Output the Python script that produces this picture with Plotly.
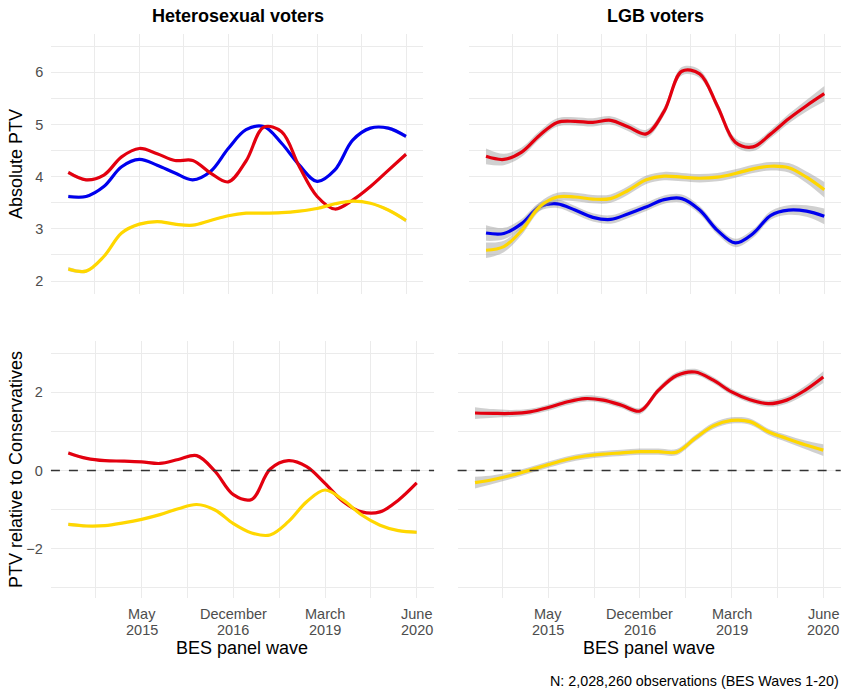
import plotly.graph_objects as go

W, H = 844, 692

waves = list(range(1, 21))
tick_waves = [5, 10, 15, 20]
tick_months = ["May", "December", "March", "June"]
tick_years = ["2015", "2016", "2019", "2020"]

# Heterosexual voters, absolute PTV
het_abs_con = [3.62, 3.62, 3.81, 4.19, 4.33, 4.22, 4.07, 3.94, 4.10, 4.54,
               4.90, 4.96, 4.64, 4.22, 3.91, 4.13, 4.70, 4.93, 4.93, 4.77]
het_abs_lab = [4.08, 3.94, 4.03, 4.38, 4.54, 4.44, 4.31, 4.31, 4.07, 3.90,
               4.30, 4.95, 4.86, 4.19, 3.62, 3.38, 3.55, 3.81, 4.12, 4.43]
het_abs_ld = [2.23, 2.19, 2.47, 2.92, 3.09, 3.14, 3.09, 3.07, 3.16, 3.25,
              3.30, 3.30, 3.31, 3.34, 3.39, 3.48, 3.53, 3.49, 3.36, 3.16]

# LGB voters, absolute PTV
lgb_abs_con = [2.92, 2.91, 3.10, 3.42, 3.48, 3.36, 3.22, 3.18, 3.29, 3.42,
               3.56, 3.58, 3.36, 2.97, 2.73, 2.91, 3.26, 3.36, 3.34, 3.24]
lgb_abs_lab = [4.39, 4.33, 4.47, 4.79, 5.04, 5.06, 5.04, 5.08, 4.95, 4.82,
               5.25, 6.02, 5.97, 5.35, 4.66, 4.57, 4.82, 5.11, 5.36, 5.59]
lgb_abs_ld = [2.59, 2.66, 2.97, 3.42, 3.61, 3.61, 3.57, 3.58, 3.74, 3.94,
              4.01, 3.99, 3.97, 3.99, 4.06, 4.15, 4.20, 4.17, 3.99, 3.75]

# Heterosexual voters, PTV relative to Conservatives
het_rel_lab = [0.45, 0.31, 0.25, 0.24, 0.22, 0.18, 0.28, 0.38, -0.02, -0.62,
               -0.74, 0.03, 0.25, 0.10, -0.33, -0.80, -1.06, -1.06, -0.76, -0.32]
het_rel_ld = [-1.38, -1.42, -1.41, -1.34, -1.25, -1.13, -0.98, -0.87, -1.01, -1.36,
              -1.60, -1.65, -1.31, -0.80, -0.50, -0.76, -1.14, -1.40, -1.54, -1.58]

# LGB voters, PTV relative to Conservatives
lgb_rel_lab = [1.47, 1.46, 1.46, 1.50, 1.61, 1.75, 1.84, 1.80, 1.67, 1.52,
               2.05, 2.43, 2.52, 2.31, 2.01, 1.81, 1.71, 1.80, 2.05, 2.39]
lgb_rel_ld = [-0.31, -0.23, -0.12, 0.01, 0.15, 0.28, 0.37, 0.42, 0.45, 0.48,
              0.48, 0.47, 0.82, 1.14, 1.28, 1.25, 0.99, 0.82, 0.66, 0.52]

# confidence band half-widths
ci_het = [0.04, 0.03, 0.02, 0.02, 0.02, 0.02, 0.02, 0.02, 0.02, 0.02,
          0.02, 0.02, 0.02, 0.02, 0.02, 0.02, 0.02, 0.02, 0.03, 0.04]
ci_lgb = [0.15, 0.11, 0.09, 0.08, 0.08, 0.08, 0.08, 0.08, 0.08, 0.08,
          0.08, 0.08, 0.08, 0.08, 0.08, 0.08, 0.08, 0.09, 0.11, 0.15]

COL = {"con": "#0000EE", "lab": "#E3000F", "ld": "#FFD700"}
RIBBON = "rgba(150,150,150,0.45)"
FONT = "Liberation Sans, Arial, sans-serif"

# panel boxes in pixels (left, right, top, bottom)
panels = {
    "x1": (51.4, 422.9, 33.7, 293.7),
    "x2": (469.1, 841.2, 33.7, 293.7),
    "x3": (50.9, 434.1, 340.7, 598.3),
    "x4": (457.6, 840.7, 340.7, 598.3),
}
YR_TOP = [1.757, 6.74]
YR_BOT = [-3.27, 3.32]
XR = [0.05, 20.95]

fig = go.Figure()

def add_series(ax, ys, color, ci):
    xref = "x" if ax == 1 else f"x{ax}"
    yref = "y" if ax == 1 else f"y{ax}"
    upper = [v + c for v, c in zip(ys, ci)]
    lower = [v - c for v, c in zip(ys, ci)]
    fig.add_trace(go.Scatter(x=waves, y=upper, mode="lines", line=dict(width=0, shape="spline", smoothing=1.0),
                             xaxis=xref, yaxis=yref, showlegend=False, hoverinfo="skip"))
    fig.add_trace(go.Scatter(x=waves, y=lower, mode="lines", line=dict(width=0, shape="spline", smoothing=1.0),
                             fill="tonexty", fillcolor=RIBBON,
                             xaxis=xref, yaxis=yref, showlegend=False, hoverinfo="skip"))
    fig.add_trace(go.Scatter(x=waves, y=ys, mode="lines",
                             line=dict(color=color, width=3.2, shape="spline", smoothing=1.0),
                             xaxis=xref, yaxis=yref, showlegend=False))

add_series(1, het_abs_con, COL["con"], ci_het)
add_series(1, het_abs_lab, COL["lab"], ci_het)
add_series(1, het_abs_ld, COL["ld"], ci_het)
add_series(2, lgb_abs_con, COL["con"], ci_lgb)
add_series(2, lgb_abs_lab, COL["lab"], ci_lgb)
add_series(2, lgb_abs_ld, COL["ld"], ci_lgb)
add_series(3, het_rel_lab, COL["lab"], ci_het)
add_series(3, het_rel_ld, COL["ld"], ci_het)
add_series(4, lgb_rel_lab, COL["lab"], ci_lgb)
add_series(4, lgb_rel_ld, COL["ld"], ci_lgb)

GRID = "#EBEBEB"
TICKFONT = dict(family=FONT, size=14.5, color="#4D4D4D")

layout = dict(
    width=W, height=H,
    margin=dict(l=0, r=0, t=0, b=0),
    paper_bgcolor="white", plot_bgcolor="white",
    font=dict(family=FONT, color="black"),
)

for i, key in enumerate(["x1", "x2", "x3", "x4"], start=1):
    l, r, t, b = panels[key]
    sfx = "" if i == 1 else str(i)
    show_y_labels = i in (1, 3)
    layout["xaxis" + sfx] = dict(
        domain=[l / W, r / W], range=XR, anchor="y" + sfx,
        tickmode="array", tickvals=tick_waves, showticklabels=False,
        showgrid=True, gridcolor=GRID, gridwidth=1.1,
        minor=dict(tick0=2.5, dtick=5, showgrid=True, gridcolor=GRID, gridwidth=0.6),
        zeroline=False, showline=False, ticks="", fixedrange=True,
    )
    top = i in (1, 2)
    layout["yaxis" + sfx] = dict(
        domain=[1 - b / H, 1 - t / H], range=YR_TOP if top else YR_BOT, anchor="x" + sfx,
        tickmode="array", tickvals=[2, 3, 4, 5, 6] if top else [-2, 0, 2],
        showticklabels=show_y_labels,
        showgrid=True, gridcolor=GRID, gridwidth=1.1,
        minor=dict(tickvals=[2.5, 3.5, 4.5, 5.5, 6.5] if top else [-3, -1, 1, 3],
                   showgrid=True, gridcolor=GRID, gridwidth=0.6),
        zeroline=False, showline=False, ticks="",
        tickfont=TICKFONT, ticklabelstandoff=7, fixedrange=True,
    )

fig.update_layout(**layout)

# dashed zero reference lines in the bottom panels
for ax in ("x3", "x4"):
    fig.add_shape(type="line", xref=f"{ax} domain", yref="y" + ax[1:], x0=0, x1=1, y0=0, y1=0,
                  line=dict(color="#333333", width=1.4, dash="dash"))

# two-line x tick labels under the bottom panels
for ax in ("x3", "x4"):
    for v, m, yr in zip(tick_waves, tick_months, tick_years):
        for txt, ypx in ((m, 613.5), (yr, 629.5)):
            fig.add_annotation(text=txt, x=v, y=1 - ypx / H, xref=ax, yref="paper",
                               showarrow=False, xanchor="center", yanchor="middle",
                               font=TICKFONT)

def ann(text, x, y, size, bold=False, angle=0, xanchor="center", color="black"):
    fig.add_annotation(text=f"<b>{text}</b>" if bold else text, x=x / W, y=1 - y / H,
                       xref="paper", yref="paper", showarrow=False, textangle=angle,
                       xanchor=xanchor, yanchor="middle",
                       font=dict(size=size, color=color, family=FONT))

ann("Heterosexual voters", 237.5, 16, 18, bold=True)
ann("LGB voters", 655, 16, 18, bold=True)
ann("Absolute PTV", 16, 164, 18, angle=-90)
ann("PTV relative to Conservatives", 16, 470, 18, angle=-90)
ann("BES panel wave", 242.5, 648, 18)
ann("BES panel wave", 649, 648, 18)
ann("N: 2,028,260 observations (BES Waves 1-20)", 841, 681, 14.3, xanchor="right")

fig.write_html("out.html")
